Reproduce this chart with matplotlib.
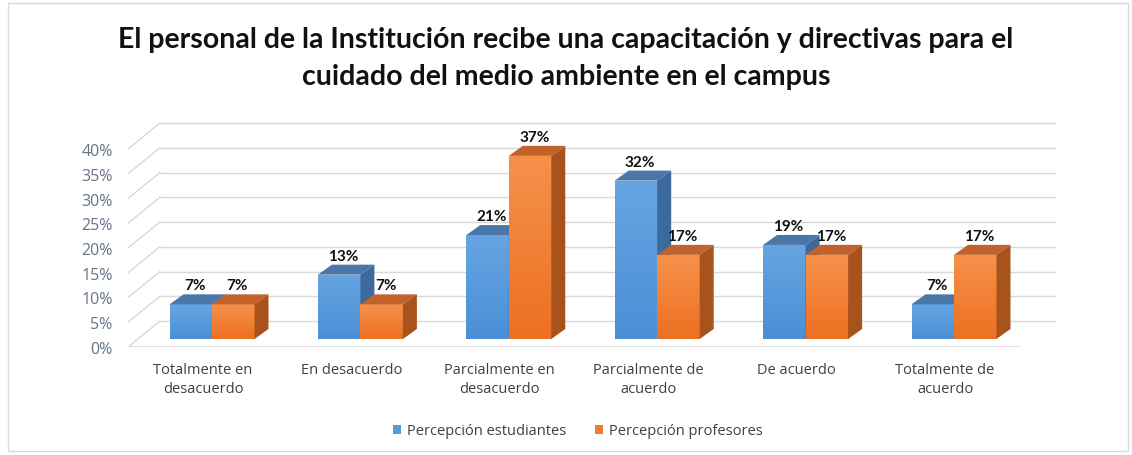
import numpy as np
import matplotlib.pyplot as plt
from matplotlib.patches import Polygon, Rectangle, Patch
from matplotlib.colors import LinearSegmentedColormap

# data
categorias = ['Totalmente en\ndesacuerdo', 'En desacuerdo', 'Parcialmente en\ndesacuerdo',
              'Parcialmente de\nacuerdo', 'De acuerdo', 'Totalmente de\nacuerdo']
estudiantes = [7, 13, 21, 32, 19, 7]
profesores = [7, 7, 37, 17, 17, 17]
series = ['Percepción estudiantes', 'Percepción profesores']
yticks = [0, 5, 10, 15, 20, 25, 30, 35, 40]

titulo1 = 'El personal de la Institución recibe una capacitación y directivas para el'
titulo2 = 'cuidado del medio ambiente en el campus'

W, H = 1132, 456
px_cat = 148.4   # pixels per category
px_pct = 4.95    # pixels per percent

fig = plt.figure(figsize=(W / 100, H / 100), dpi=100)
fig.patch.set_facecolor('white')

# axes placed in pixel units so the fake 3D offsets are easy to reason about
ax_l, ax_r, ax_b, ax_t = 128, 1060, 348, 115
ax = fig.add_axes([ax_l / W, (H - ax_b) / H, (ax_r - ax_l) / W, (ax_b - ax_t) / H])
x0 = -(203 - ax_l) / px_cat

# depth offsets (data units)
back_dx, back_dy = 32 / px_cat, 26 / px_pct
bar_bx, bar_by = 9 / px_cat, 8 / px_pct
dep_dx, dep_dy = 14 / px_cat, 10 / px_pct
bw = 42.5 / px_cat

grid_c = '#d9d9d9'
# back wall gridlines + left wall diagonals
x_back_end = (1055 - 203) / px_cat
for v in yticks:
    ax.plot([x0 + back_dx, x_back_end], [v + back_dy, v + back_dy], color=grid_c, lw=1, zorder=0)
    ax.plot([x0, x0 + back_dx], [v, v + back_dy], color=grid_c, lw=1, zorder=0)
# floor front edge
x_floor_end = (1020 - 203) / px_cat
ax.plot([x0, x_floor_end], [0, 0], color=grid_c, lw=1.2, zorder=0)

x = np.arange(len(categorias))
estilos = [
    dict(bot_c='#4a8fd6', hi_c='#66a5e2', lid='#4a77a8', side='#3d6a9c'),
    dict(bot_c='#ec7022', hi_c='#f6914a', lid='#c0622a', side='#a9531c'),
]

for k, (vals, est) in enumerate(zip([estudiantes, profesores], estilos)):
    lefts = x + bar_bx - bw + k * bw
    z = 2 + k
    bars = ax.bar(lefts, vals, width=bw, bottom=bar_by, align='edge',
                  color=est['bot_c'], edgecolor='none', zorder=z)
    cmap = LinearSegmentedColormap.from_list('g', [est['bot_c'], est['hi_c']])
    for b, v in zip(bars, vals):
        bx, by, w_, h_ = b.get_x(), b.get_y(), b.get_width(), b.get_height()
        grad = np.linspace(0, 1, 64).reshape(-1, 1)
        im = ax.imshow(grad, extent=[bx, bx + w_, by, by + h_], origin='lower',
                       cmap=cmap, aspect='auto', zorder=z + 0.1, interpolation='bicubic')
        im.set_clip_path(b)
        top = by + h_
        ax.add_patch(Polygon([(bx, top), (bx + w_, top), (bx + w_ + dep_dx, top + dep_dy),
                              (bx + dep_dx, top + dep_dy)], closed=True,
                             facecolor=est['lid'], edgecolor='none', zorder=z + 0.2))
        ax.add_patch(Polygon([(bx + w_, by), (bx + w_ + dep_dx, by + dep_dy),
                              (bx + w_ + dep_dx, top + dep_dy), (bx + w_, top)], closed=True,
                             facecolor=est['side'], edgecolor='none', zorder=z + 0.2))
        ax.text(bx + w_ / 2 + dep_dx * 0.3, top + dep_dy + 9 / px_pct, f'{v}%',
                ha='center', va='center', fontsize=11, fontweight='bold',
                family='Lato', color='#111111', zorder=10)

ax.set_xlim(x0, x0 + (ax_r - ax_l) / px_cat)
ax.set_ylim(0, (ax_b - ax_t) / px_pct)

ax.set_yticks(yticks)
ax.set_yticklabels([f'{v}%' for v in yticks], family='Open Sans', fontsize=11.5, color='#667488')
ax.set_xticks(x)
ax.set_xticklabels(categorias, family='Open Sans', fontsize=10.5, color='#404040', linespacing=1.3)
ax.tick_params(axis='y', length=0, pad=11)
ax.tick_params(axis='x', length=0, pad=11)
for s in ax.spines.values():
    s.set_visible(False)
ax.set_facecolor('none')

fig.text(0.5, 1 - 40 / H, titulo1, ha='center', va='center', fontsize=20.5,
         fontweight='bold', family='Lato', color='#111111')
fig.text(0.5, 1 - 77 / H, titulo2, ha='center', va='center', fontsize=20.5,
         fontweight='bold', family='Lato', color='#111111')

handles = [Patch(facecolor='#5b9bd5'), Patch(facecolor='#ed7d31')]
fig.legend(handles, series, loc='center', bbox_to_anchor=(578 / W, 1 - 432 / H), ncol=2,
           frameon=False, handlelength=0.55, handleheight=0.55, handletextpad=0.4,
           columnspacing=2.0, prop=dict(family='Open Sans', size=10.5), labelcolor='#404040')

fig.patches.append(Rectangle((8 / W, 4 / H), 1120 / W, 448 / H, transform=fig.transFigure,
                             fill=False, edgecolor='#d9d9d9', lw=1))

fig.savefig('out.png', dpi=100)
